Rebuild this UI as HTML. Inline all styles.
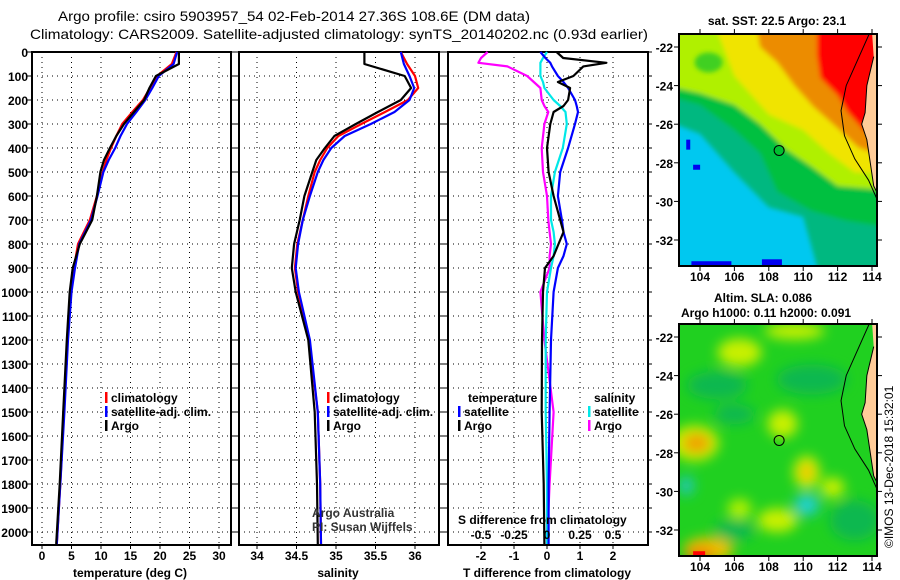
<!DOCTYPE html>
<html><head><meta charset="utf-8">
<style>
html,body{margin:0;padding:0;background:#fff;}
svg{display:block;font-family:"Liberation Sans",sans-serif;}
.b{font-weight:bold;font-size:12px;}
</style></head>
<body>
<svg id="chart" width="900" height="580" viewBox="0 0 900 580" xmlns="http://www.w3.org/2000/svg">
<defs>
<filter id="blur3" x="-20%" y="-20%" width="140%" height="140%"><feGaussianBlur stdDeviation="2.5"/></filter>
<filter id="blur6" x="-50%" y="-50%" width="200%" height="200%"><feGaussianBlur stdDeviation="6"/></filter>
<clipPath id="clipTop"><rect x="679" y="34" width="198" height="232"/></clipPath>
<clipPath id="clipBot"><rect x="679" y="324" width="198" height="232"/></clipPath>
</defs>
<text x="58" y="21" font-size="14" textLength="472" lengthAdjust="spacingAndGlyphs">Argo profile: csiro 5903957_54 02-Feb-2014 27.36S 108.6E (DM data)</text>
<text x="30" y="39" font-size="14" textLength="618" lengthAdjust="spacingAndGlyphs">Climatology: CARS2009. Satellite-adjusted climatology: synTS_20140202.nc (0.93d earlier)</text>
<g id="panels"></g>
<g id="maps"></g>
<text transform="translate(893,548) rotate(-90)" font-size="12">©IMOS 13-Dec-2018 15:32:01</text>
</svg>
<script>
// ---------- data ----------
const depths = [0,50,100,150,200,250,300,350,400,450,500,600,700,800,900,1000,1200,1500,1800,2050];
const tempArgo = [23.2,23.2,19.3,18.2,17.3,15.6,13.9,12.6,11.5,10.5,9.9,9.3,8.5,6.4,5.2,4.7,4.2,3.6,3.0,2.4];
const tempClim = [22.8,22.0,19.5,18.3,17.1,15.3,13.6,12.6,11.7,10.9,10.3,9.3,8.1,6.1,5.4,4.8,4.3,3.7,3.1,2.5];
const tempSat  = [22.9,22.3,19.8,18.7,17.5,16.0,14.4,13.3,12.4,11.3,10.4,9.4,8.3,6.3,5.6,5.0,4.4,3.8,3.1,2.5];
const salArgo = [35.36,35.36,35.87,35.95,35.82,35.53,35.25,34.98,34.86,34.75,34.70,34.60,34.54,34.47,34.44,34.49,34.65,34.73,34.76,34.77];
const salClim = [35.82,35.90,36.00,36.04,35.91,35.62,35.32,35.03,34.89,34.80,34.73,34.65,34.58,34.51,34.48,34.52,34.66,34.77,34.80,34.81];
const salSat  = [35.82,35.86,35.93,35.99,35.93,35.74,35.44,35.11,34.94,34.84,34.77,34.67,34.58,34.52,34.49,34.53,34.67,34.77,34.80,34.81];
const dDepths = [0,25,45,60,100,125,150,200,225,250,300,400,500,600,700,750,800,850,900,1000,1200,1500,1800,2050];
const tDiffArgo = [0.29,0.49,1.8,1.1,0.8,0.33,0.7,0.64,0.5,0.2,0.1,0.0,0.05,0.2,0.4,0.5,0.35,0.2,-0.06,-0.12,-0.15,-0.16,-0.1,-0.08];
const tDiffSat  = [-0.2,-0.05,0.1,0.15,0.33,0.5,0.64,0.85,0.9,0.94,0.85,0.64,0.4,0.33,0.45,0.5,0.6,0.5,0.33,0.2,0.12,0.08,0.05,0.05];
const sDiffArgo = [-0.45,-0.5,-0.52,-0.3,-0.15,-0.1,-0.05,-0.04,-0.02,0.01,-0.02,-0.04,-0.03,0.0,0.01,0.02,0.03,0.02,0.02,-0.05,-0.02,0.05,0.02,0.0];
const sDiffSat  = [0.0,-0.03,-0.05,-0.05,-0.05,-0.03,-0.02,0.05,0.1,0.14,0.15,0.12,0.06,0.03,0.03,0.05,0.06,0.05,0.03,0.0,-0.01,-0.01,0.0,0.0];
const depthTicks = [0,100,200,300,400,500,600,700,800,900,1000,1100,1200,1300,1400,1500,1600,1700,1800,1900,2000];
const tempTicks = [0,5,10,15,20,25,30];
const salTicks = [34,34.5,35,35.5,36];
const tDiffTicks = [-2,-1,0,1,2];
const sDiffTicks = [-0.5,-0.25,0,0.25,0.5];
const sDiffTickLabels = ["-0.5","-0.25","0","0.25","0.5"];
const latTicks = [-22,-24,-26,-28,-30,-32];
const lonTicks = [104,106,108,110,112,114];

// ---------- scales ----------
const NS="http://www.w3.org/2000/svg";
const yD = d => 52 + d*0.24;
const xT = t => 42 + t*5.9;
const xS = s => 257 + (s-34)*79;
const xTd = v => 547 + v*33;
const xSd = v => 547 + v*132;
const xLon = lo => 700 + (lo-104)*17.2;
const yLatTop = la => 47 + (-22-la)*19.3;
const yLatBot = la => 337 + (-22-la)*19.3;

function mk(tag, attrs, parent){
  const e=document.createElementNS(NS,tag);
  for(const k in attrs) e.setAttribute(k,attrs[k]);
  parent.appendChild(e); return e;
}
const panels=document.getElementById('panels');
const maps=document.getElementById('maps');

function panelFrame(x0,x1,name,gridXs){
  const g=mk('g',{},panels);
  
  
  depthTicks.forEach(d=>{
    const y=yD(d);
    const l=mk('line',{x1:x0,x2:x1,y1:y,y2:y,stroke:'#000','stroke-width':1,'stroke-dasharray':'1,4'},g);
    
    
    mk('line',{x1:x0-5,x2:x0,y1:y,y2:y,stroke:'#000','stroke-width':1},g);
    mk('line',{x1:x1,x2:x1+4,y1:y,y2:y,stroke:'#000','stroke-width':1},g);
  });
  gridXs.forEach(x=>{
    const l=mk('line',{x1:x,x2:x,y1:52,y2:545,stroke:'#000','stroke-width':1,'stroke-dasharray':'1,4'},g);
    
    
    mk('line',{x1:x,x2:x,y1:545,y2:549,stroke:'#000'},g);
  });
  const r=mk('rect',{x:x0,y:52,width:x1-x0,height:493,fill:'none',stroke:'#000','stroke-width':2},g);
  
  
  return g;
}
function line(g, xs, ds, xf, color, name){
  const pts=xs.map((v,i)=>xf(v).toFixed(1)+','+yD(ds[i]).toFixed(1)).join(' ');
  const p=mk('polyline',{points:pts,fill:'none',stroke:color,'stroke-width':2.2,'stroke-linejoin':'round'},g);
  
  
}
function txt(g,x,y,s,name,anchor,cls,extra){
  const t=mk('text',Object.assign({x:x,y:y,'text-anchor':anchor||'start',class:cls||'b'},extra||{}),g);
  t.textContent=s;
  
  
  return t;
}
function legendEntry(g,x,y,color,label,name){
  const r=mk('rect',{x:x,y:y-10,width:2.5,height:11,fill:color},g);
  
  
  txt(g,x+6,y,label,name);
}

// panel 1: temperature
const g1=panelFrame(32,231,'temperature-panel',tempTicks.map(xT));
depthTicks.forEach(d=>txt(g1,28,yD(d)+5,String(d),'depth-tick-label','end'));
tempTicks.forEach(t=>txt(g1,xT(t),560,String(t),'temp-tick-label','middle'));
txt(g1,130,577,'temperature (deg C)','x-axis-title-temperature','middle');
line(g1,tempClim,depths,xT,'#ff0000','temp-climatology-line');
line(g1,tempSat,depths,xT,'#0000ff','temp-satellite-line');
line(g1,tempArgo,depths,xT,'#000000','temp-argo-line');
legendEntry(g1,105,402,'#ff0000','climatology','legend-climatology');
legendEntry(g1,105,416,'#0000ff','satellite-adj. clim.','legend-satellite-adj');
legendEntry(g1,105,430,'#000000','Argo','legend-argo');

// panel 2: salinity
const g2=panelFrame(239,439,'salinity-panel',salTicks.map(xS));
salTicks.forEach(s=>txt(g2,xS(s),560,String(s),'sal-tick-label','middle'));
txt(g2,338,577,'salinity','x-axis-title-salinity','middle');
line(g2,salClim,depths,xS,'#ff0000','sal-climatology-line');
line(g2,salSat,depths,xS,'#0000ff','sal-satellite-line');
line(g2,salArgo,depths,xS,'#000000','sal-argo-line');
legendEntry(g2,327,402,'#ff0000','climatology','legend-climatology-2');
legendEntry(g2,327,416,'#0000ff','satellite-adj. clim.','legend-satellite-adj-2');
legendEntry(g2,327,430,'#000000','Argo','legend-argo-2');
txt(g2,312,517,'Argo Australia','credit-argo-australia','start','',{'font-size':11,fill:'#333'});
txt(g2,312,531,'PI: Susan Wijffels','credit-pi','start','',{'font-size':11,fill:'#333'});

// panel 3: differences
const g3=panelFrame(448,648,'difference-panel',tDiffTicks.map(xTd));
tDiffTicks.forEach(t=>txt(g3,xTd(t),560,String(t),'tdiff-tick-label','middle'));
txt(g3,547,577,'T difference from climatology','x-axis-title-tdiff','middle');
line(g3,sDiffArgo,dDepths,xSd,'#ff00ff','sdiff-argo-line');
line(g3,sDiffSat,dDepths,xSd,'#00e8e8','sdiff-satellite-line');
line(g3,tDiffSat,dDepths,xTd,'#0000ff','tdiff-satellite-line');
line(g3,tDiffArgo,dDepths,xTd,'#000000','tdiff-argo-line');
txt(g3,468,402,'temperature','legend-title-temperature');
legendEntry(g3,458,416,'#0000ff','satellite','legend-t-satellite');
legendEntry(g3,458,430,'#000000','Argo','legend-t-argo');
txt(g3,594,402,'salinity','legend-title-salinity');
legendEntry(g3,588,416,'#00e8e8','satellite','legend-s-satellite');
legendEntry(g3,588,430,'#ff00ff','Argo','legend-s-argo');
txt(g3,458,524,'S difference from climatology','s-axis-title','start');
sDiffTicks.forEach((s,i)=>txt(g3,xSd(s),539,sDiffTickLabels[i],'sdiff-tick-label','middle'));

// ---------- maps ----------
function poly(g,coords,fill,yf){
  return mk('polygon',{points:coords.map(c=>xLon(c[0]).toFixed(1)+','+yf(c[1]).toFixed(1)).join(' '),fill:fill},g);
}
function above(boundary){ return [[102,-20]].concat(boundary).concat([[116,-20]]); }
function mapAxes(g,yf,y0){
  latTicks.forEach(la=>{
    const y=yf(la);
    mk('line',{x1:674,x2:679,y1:y,y2:y,stroke:'#000'},g);
    mk('line',{x1:877,x2:882,y1:y,y2:y,stroke:'#000'},g);
    txt(g,673,y+5,String(la),'lat-tick-label','end');
  });
  lonTicks.forEach(lo=>{
    const x=xLon(lo);
    mk('line',{x1:x,x2:x,y1:y0+232,y2:y0+237,stroke:'#000'},g);
    mk('line',{x1:x,x2:x,y1:y0-5,y2:y0,stroke:'#000'},g);
    txt(g,x,y0+247,String(lo),'lon-tick-label','middle','',{'font-size':13,'font-weight':'bold'});
  });
}
const landPts=[[114.0,-21.2],[114.5,-21.2],[114.5,-29.9],[114.1,-29.2],[113.9,-28.0],[113.7,-26.8],[113.4,-26.0],[113.6,-25.4],[113.7,-24.0],[114.1,-22.5]];
const shelfPts=[[113.9,-21.2],[113.2,-22.6],[112.5,-24.0],[112.2,-25.3],[112.4,-26.6],[113.0,-27.8],[113.8,-28.9],[114.4,-30.1]];
function coast(g,yf){
  const p=poly(g,landPts,'#ffcc99',yf);
  
  
  mk('polyline',{points:landPts.slice(2).map(c=>xLon(c[0])+','+yf(c[1])).join(' '),fill:'none',stroke:'#000','stroke-width':1},g);
  mk('polyline',{points:shelfPts.map(c=>xLon(c[0])+','+yf(c[1])).join(' '),fill:'none',stroke:'#000','stroke-width':1},g);
}

// top SST map
const mt=mk('g',{},maps);


txt(mt,777,25,'sat. SST: 22.5 Argo: 23.1','sst-map-title','middle');
const mtc=mk('g',{'clip-path':'url(#clipTop)'},mt);
mk('rect',{x:679,y:34,width:198,height:232,fill:'#00c8f0'},mtc);
const mtb=mk('g',{filter:'url(#blur3)'},mtc);
poly(mtb,above([[102,-25.8],[104,-26.5],[106,-28.5],[108,-30.3],[110,-30.8],[111,-34],[116,-34]]),'#00b880',yLatTop);
poly(mtb,above([[102,-24.5],[104,-25],[106,-26.3],[107.5,-27.5],[108.5,-29.5],[110.5,-30.5],[112.5,-31],[116,-31.5]]),'#00c040',yLatTop);
poly(mtb,above([[102,-24],[104,-24.4],[106,-25],[107.5,-26],[109,-27.3],[110.5,-28.2],[112,-29.2],[116,-29.5]]),'#b0f000',yLatTop);
poly(mtb,above([[104.5,-20],[106,-23.5],[108,-25.5],[110,-26.3],[111.5,-27.5],[113,-28.5],[116,-28.5]]),'#f0e400',yLatTop);
poly(mtb,[[107.3,-21],[115,-21],[115,-27.8],[113.2,-27.2],[112,-26.2],[110.6,-25.1],[109.5,-24],[108.5,-22.8],[107.5,-22]],'#ec8c00',yLatTop);
poly(mtb,[[110.8,-21],[115,-21],[115,-26.6],[113.6,-26.4],[112.6,-25.4],[112,-24.5],[111,-23.6],[110.8,-22.4]],'#ff0000',yLatTop);
mk('ellipse',{cx:xLon(104.5),cy:yLatTop(-22.8),rx:14,ry:10,fill:'#40d020',filter:'url(#blur3)'},mtc);
mk('rect',{x:xLon(103.5),y:yLatTop(-33.1),width:40,height:5,fill:'#0000f0'},mtc);
mk('rect',{x:xLon(107.6),y:yLatTop(-33.0),width:20,height:8,fill:'#0000f0'},mtc);
mk('rect',{x:xLon(103.2),y:yLatTop(-26.8),width:4,height:10,fill:'#0000f0'},mtc);
mk('rect',{x:xLon(103.6),y:yLatTop(-28.1),width:7,height:5,fill:'#0000f0'},mtc);
coast(mtc,yLatTop);
const c1=mk('circle',{cx:xLon(108.6),cy:yLatTop(-27.36),r:5,fill:'#00c030',stroke:'#000','stroke-width':1},mt);


mk('rect',{x:679,y:34,width:198,height:232,fill:'none',stroke:'#000','stroke-width':2},mt);
mapAxes(mt,yLatTop,34);

// bottom SLA map
const mb=mk('g',{},maps);


txt(mb,763,302,'Altim. SLA: 0.086','sla-map-title','middle');
txt(mb,766,317,'Argo h1000: 0.11 h2000: 0.091','sla-map-subtitle','middle');
const mbc=mk('g',{'clip-path':'url(#clipBot)'},mb);
mk('rect',{x:679,y:324,width:198,height:232,fill:'#20d020'},mbc);
const mbb=mk('g',{filter:'url(#blur6)'},mbc);
const E=(lo,la,rx,ry,f)=>mk('ellipse',{cx:xLon(lo),cy:yLatBot(la),rx:rx,ry:ry,fill:f},mbb);
E(105,-24.5,30,14,'#10b850');E(110.5,-24.2,35,15,'#10b850');E(106,-26,20,10,'#10b850');
E(113,-31.5,25,20,'#10b850');E(106,-32,20,10,'#10b850');
E(106.3,-22.8,22,14,'#c8f000');E(109.5,-21.7,30,8,'#c8f000');E(103.7,-27.5,24,18,'#c8f000');
E(103.8,-27.5,14,10,'#f0a000');E(108.8,-26.5,15,14,'#c8f000');E(110.2,-29.0,13,16,'#d8f000');
E(110.2,-29.0,6,8,'#f0b800');E(108.5,-31.5,20,12,'#c8f000');E(111.7,-29.8,12,10,'#c8f000');
E(104.5,-33,25,12,'#f0c000');E(104,-33.3,14,8,'#ee8000');E(103.2,-29.7,8,10,'#20c8b0');
E(110.2,-30.7,14,12,'#20c8a0');E(110.2,-30.7,7,6,'#20d8e0');E(106.3,-30.9,12,10,'#b0f000');
mk('rect',{x:xLon(103.6),y:yLatBot(-33.1),width:12,height:5,fill:'#ff0000'},mbc);
coast(mbc,yLatBot);
const c2=mk('circle',{cx:xLon(108.6),cy:yLatBot(-27.36),r:5,fill:'none',stroke:'#000','stroke-width':1},mb);


mk('rect',{x:679,y:324,width:198,height:232,fill:'none',stroke:'#000','stroke-width':2},mb);
mapAxes(mb,yLatBot,324);
</script>
</body></html>
